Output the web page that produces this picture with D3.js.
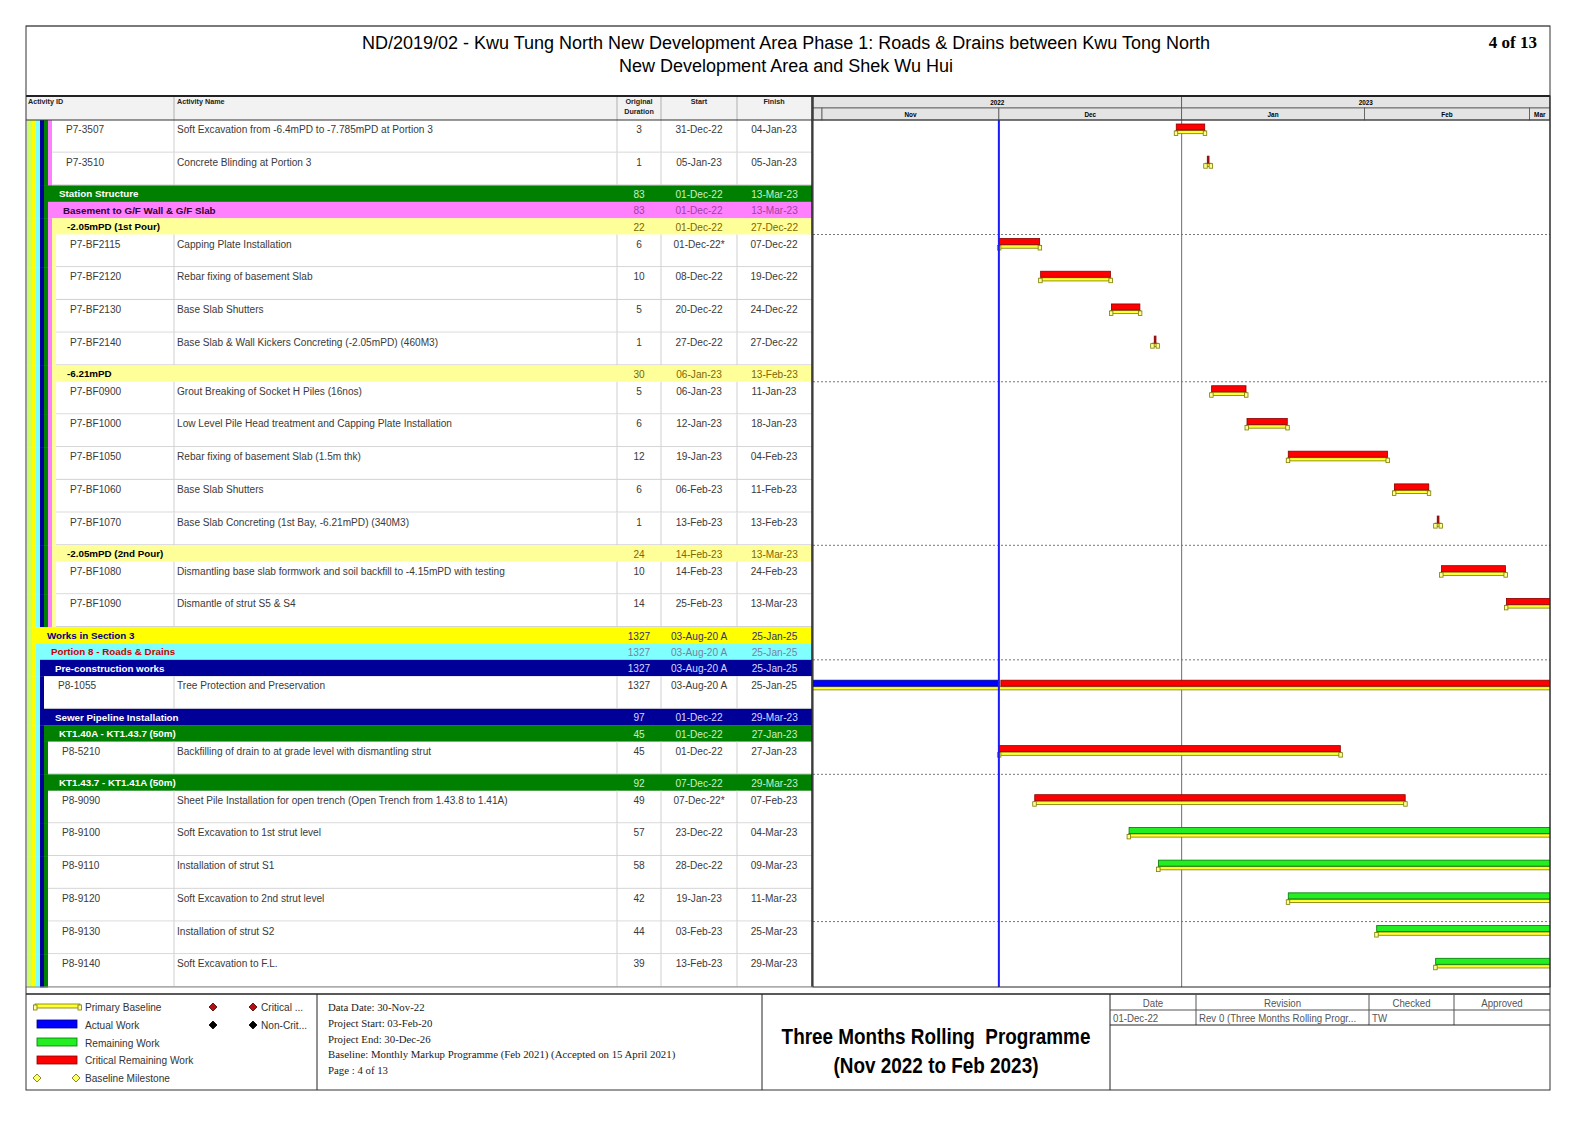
<!DOCTYPE html>
<html>
<head>
<meta charset="utf-8">
<script src="https://cdn.jsdelivr.net/npm/d3@7"></script>
<style>
body { margin: 0; background: #fff; }
text { font-family: "Liberation Sans", Arial, sans-serif; }
.serif { font-family: "Liberation Serif", "Times New Roman", serif; }
</style>
</head>
<body>
<svg id="chart" width="1588" height="1123"></svg>
<script>
// ---- data ----
var rowKinds = ['a','a','g','g','g','a','a','a','a','g','a','a','a','a','a','g','a','a',
                'g','g','g','a','g','g','a','g','a','a','a','a','a','a'];
var rowLevels = [6,6,4,5,6,7,7,7,7,6,7,7,7,7,7,6,7,7,
                 1,2,3,4,3,4,5,4,5,5,5,5,5,5];
var rowIds = ['P7-3507','P7-3510','','','','P7-BF2115','P7-BF2120','P7-BF2130','P7-BF2140','',
              'P7-BF0900','P7-BF1000','P7-BF1050','P7-BF1060','P7-BF1070','','P7-BF1080','P7-BF1090',
              '','','','P8-1055','','','P8-5210','','P8-9090','P8-9100','P8-9110','P8-9120','P8-9130','P8-9140'];
var rowNames = [
  'Soft Excavation from -6.4mPD to -7.785mPD at Portion 3',
  'Concrete Blinding at Portion 3',
  'Station Structure',
  'Basement to G/F Wall & G/F Slab',
  '-2.05mPD (1st Pour)',
  'Capping Plate Installation',
  'Rebar fixing of basement Slab',
  'Base Slab Shutters',
  'Base Slab & Wall Kickers Concreting (-2.05mPD) (460M3)',
  '-6.21mPD',
  'Grout Breaking of Socket H Piles (16nos)',
  'Low Level Pile Head treatment and Capping Plate Installation',
  'Rebar fixing of basement Slab (1.5m thk)',
  'Base Slab Shutters',
  'Base Slab Concreting (1st Bay, -6.21mPD) (340M3)',
  '-2.05mPD (2nd Pour)',
  'Dismantling base slab formwork and soil backfill to -4.15mPD with testing',
  'Dismantle of strut S5 & S4',
  'Works in Section 3',
  'Portion 8 - Roads & Drains',
  'Pre-construction works',
  'Tree Protection and Preservation',
  'Sewer Pipeline Installation',
  'KT1.40A - KT1.43.7 (50m)',
  'Backfilling of drain to at grade level with dismantling strut',
  'KT1.43.7 - KT1.41A (50m)',
  'Sheet Pile Installation for open trench (Open Trench from 1.43.8 to 1.41A)',
  'Soft Excavation to 1st strut level',
  'Installation of strut S1',
  'Soft Excavation to 2nd strut level',
  'Installation of strut S2',
  'Soft Excavation to F.L.'
];
var rowDurations = [3,1,83,83,22,6,10,5,1,30,5,6,12,6,1,24,10,14,
                    1327,1327,1327,1327,97,45,45,92,49,57,58,42,44,39];
var rowStarts = ['31-Dec-22','05-Jan-23','01-Dec-22','01-Dec-22','01-Dec-22','01-Dec-22*','08-Dec-22',
                 '20-Dec-22','27-Dec-22','06-Jan-23','06-Jan-23','12-Jan-23','19-Jan-23','06-Feb-23',
                 '13-Feb-23','14-Feb-23','14-Feb-23','25-Feb-23','03-Aug-20 A','03-Aug-20 A','03-Aug-20 A',
                 '03-Aug-20 A','01-Dec-22','01-Dec-22','01-Dec-22','07-Dec-22','07-Dec-22*','23-Dec-22',
                 '28-Dec-22','19-Jan-23','03-Feb-23','13-Feb-23'];
var rowFinishes = ['04-Jan-23','05-Jan-23','13-Mar-23','13-Mar-23','27-Dec-22','07-Dec-22','19-Dec-22',
                   '24-Dec-22','27-Dec-22','13-Feb-23','11-Jan-23','18-Jan-23','04-Feb-23','11-Feb-23',
                   '13-Feb-23','13-Mar-23','24-Feb-23','13-Mar-23','25-Jan-25','25-Jan-25','25-Jan-25',
                   '25-Jan-25','29-Mar-23','27-Jan-23','27-Jan-23','29-Mar-23','07-Feb-23','04-Mar-23',
                   '09-Mar-23','11-Mar-23','25-Mar-23','29-Mar-23'];
// bar type per row: c = critical remaining, r = remaining, ac = actual then critical
var barKinds = ['c','c','','','','c','c','c','c','','c','c','c','c','c','','c','c',
                '','','','ac','','','c','','c','r','r','r','r','r'];
var dataDate = '30-Nov-22';
var yearLabels = [2022, 2023];

var titleLines = ['ND/2019/02 - Kwu Tung North New Development Area Phase 1: Roads & Drains between Kwu Tong North',
                  'New Development Area and Shek Wu Hui'];
var infoLines = ['Data Date: 30-Nov-22', 'Project Start: 03-Feb-20', 'Project End: 30-Dec-26',
                 'Baseline: Monthly Markup Programme (Feb 2021) (Accepted on 15 April 2021)', 'Page : 4 of 13'];
var revHeaders = ['Date', 'Revision', 'Checked', 'Approved'];
var revRow = ['01-Dec-22', 'Rev 0 (Three Months Rolling Progr...', 'TW', ''];

// ---- layout ----
var svg = d3.select('#chart');
var L = 26, R = 1550, T = 26, B = 1090;
var headTop = 96, tableTop = 120, tableBottom = 987;
var ganttL = 813, ganttR = 1550;
var cols = [26, 174, 617, 661, 737, 812];

var levelFill = ['#ccff66', '#ffff00', '#80ffff', '#000099', '#008000', '#ff80ff', '#ffff99'];
var levelText = ['#000', '#000080', '#cc0000', '#ffffff', '#ffffff', '#330033', '#000000'];
var levelValText = ['#000', '#303070', '#7b7fa0', '#d8d8ff', '#c8f0c8', '#a040a0', '#806600'];
function bandX(lv) { return 28 + 4 * lv; }

var parseDate = d3.timeParse('%d-%b-%y');
function toDate(s) { return parseDate(s.replace('*', '').replace(' A', '').trim()); }

// condensed text (no narrow font installed, so squeeze horizontally)
function ntext(sel, x, y, anchor, size, fill, t, sx) {
    return sel.append('text')
        .attr('transform', 'translate(' + x + ',' + y + ') scale(' + (sx || 0.88) + ',1)')
        .attr('text-anchor', anchor).attr('font-size', size).attr('fill', fill)
        .text(t);
}

var units = rowKinds.map(function(k) { return k === 'a' ? 2 : 1; });
var unitH = (tableBottom - tableTop) / d3.sum(units);
var tops = [], acc = tableTop;
units.forEach(function(u) { tops.push(acc); acc += u * unitH; });

var x = d3.scaleTime()
    .domain([new Date(2022, 10, 1), new Date(2023, 2, 1)])
    .range([822, 1529.5]);

// ---- frame & title ----
svg.append('rect').attr('x', 0).attr('y', 0).attr('width', 1588).attr('height', 1123).attr('fill', '#fff');

svg.selectAll('.title').data(titleLines).enter().append('text')
    .attr('x', 786).attr('y', function(d, i) { return 49 + i * 23; })
    .attr('text-anchor', 'middle').attr('font-size', 18).attr('fill', '#000')
    .text(function(d) { return d; });
svg.append('text').attr('class', 'serif').attr('x', 1537).attr('y', 48)
    .attr('text-anchor', 'end').attr('font-size', 17).attr('font-weight', 'bold').text('4 of 13');

// ---- table rows ----
var rows = svg.append('g');
rowKinds.forEach(function(kind, i) {
    var top = tops[i], h = units[i] * unitH, lv = rowLevels[i];
    var g = rows.append('g');
    // ancestor strips
    for (var k = 0; k < lv; k++) {
        var x0 = k === 0 ? 27 : bandX(k);
        g.append('rect').attr('x', x0).attr('y', top).attr('width', bandX(k + 1) - x0).attr('height', h + 0.5)
            .attr('fill', levelFill[k]);
    }
    if (kind === 'g') {
        g.append('rect').attr('x', bandX(lv)).attr('y', top).attr('width', cols[5] - bandX(lv)).attr('height', h + 0.3)
            .attr('fill', levelFill[lv]);
        g.append('text').attr('x', bandX(lv) + 15).attr('y', top + 12)
            .attr('font-size', 9.8).attr('font-weight', 'bold').attr('fill', levelText[lv])
            .text(rowNames[i]);
        var vals = [rowDurations[i], rowStarts[i], rowFinishes[i]];
        vals.forEach(function(v, j) {
            ntext(g, (cols[j + 2] + cols[j + 3]) / 2, top + 12.5, 'middle', 11.5, levelValText[lv], v);
        });
    } else {
        g.append('rect').attr('x', bandX(lv)).attr('y', top).attr('width', cols[5] - bandX(lv)).attr('height', h)
            .attr('fill', '#fff');
        g.append('line').attr('x1', bandX(lv)).attr('x2', cols[5]).attr('y1', top + h - 0.5).attr('y2', top + h - 0.5)
            .attr('stroke', '#cfcfcf');
        [174, 617, 661, 737].forEach(function(cx) {
            g.append('line').attr('x1', cx).attr('x2', cx).attr('y1', top).attr('y2', top + h)
                .attr('stroke', '#cfcfcf');
        });
        var cells = [
            {x: bandX(lv) + 14, a: 'start', t: rowIds[i]},
            {x: 177, a: 'start', t: rowNames[i]},
            {x: 639, a: 'middle', t: rowDurations[i]},
            {x: 699, a: 'middle', t: rowStarts[i]},
            {x: 774, a: 'middle', t: rowFinishes[i]}
        ];
        cells.forEach(function(c) {
            ntext(g, c.x, top + 13, c.a, 11.5, '#3a3a3a', c.t);
        });
    }
});

// ---- table header ----
var hdr = svg.append('g');
hdr.append('rect').attr('x', L).attr('y', headTop).attr('width', cols[5] - L).attr('height', tableTop - headTop)
    .attr('fill', '#f2f2f2');
[174, 617, 661, 737].forEach(function(cx) {
    hdr.append('line').attr('x1', cx).attr('x2', cx).attr('y1', headTop).attr('y2', tableTop).attr('stroke', '#b0b0b0');
});
var hdrLabels = [
    {x: 28, a: 'start', t: ['Activity ID']},
    {x: 177, a: 'start', t: ['Activity Name']},
    {x: 639, a: 'middle', t: ['Original', 'Duration']},
    {x: 699, a: 'middle', t: ['Start']},
    {x: 774, a: 'middle', t: ['Finish']}
];
hdrLabels.forEach(function(h) {
    h.t.forEach(function(t, j) {
        ntext(hdr, h.x, headTop + 8 + j * 9.5, h.a, 8, '#222', t, 0.9).attr('font-weight', 'bold');
    });
});
hdr.append('line').attr('x1', L).attr('x2', cols[5]).attr('y1', tableTop).attr('y2', tableTop).attr('stroke', '#333');

// ---- gantt ----
var gantt = svg.append('g');
svg.append('clipPath').attr('id', 'gclip').append('rect')
    .attr('x', ganttL).attr('y', headTop).attr('width', ganttR - ganttL).attr('height', tableBottom - headTop);
var gc = gantt.append('g').attr('clip-path', 'url(#gclip)');

// timescale
var ts = gc.append('g');
yearLabels.forEach(function(y) {
    var x0 = Math.max(ganttL, x(new Date(y, 0, 1))), x1 = Math.min(ganttR, x(new Date(y + 1, 0, 1)));
    ts.append('rect').attr('x', x0).attr('y', headTop).attr('width', x1 - x0).attr('height', 12)
        .attr('fill', '#e4e4e4').attr('stroke', '#555').attr('stroke-width', 0.8);
    ntext(ts, (x0 + x1) / 2, headTop + 8.5, 'middle', 7.5, '#000', y, 0.85).attr('font-weight', 'bold');
});
var monthFmt = d3.timeFormat('%b');
d3.timeMonth.range(new Date(2022, 9, 1), new Date(2023, 3, 1)).forEach(function(m) {
    var x0 = Math.max(ganttL, x(m)), x1 = Math.min(ganttR, x(d3.timeMonth.offset(m, 1)));
    if (x1 <= x0) return;
    ts.append('rect').attr('x', x0).attr('y', headTop + 12).attr('width', x1 - x0).attr('height', 12)
        .attr('fill', '#e4e4e4').attr('stroke', '#555').attr('stroke-width', 0.8);
    if (x1 - x0 > 15) {
        ntext(ts, (x0 + x1) / 2, headTop + 21, 'middle', 7.5, '#000', monthFmt(m), 0.85).attr('font-weight', 'bold');
    }
});

// sight lines every 5 rows
tops.forEach(function(t, i) {
    if ((i + 1) % 5 === 0) {
        var yb = t + units[i] * unitH;
        gc.append('line').attr('x1', ganttL).attr('x2', ganttR).attr('y1', yb).attr('y2', yb)
            .attr('stroke', '#555').attr('stroke-dasharray', '2,2').attr('stroke-width', 0.8);
    }
});

// year boundary line and data date line
var jan1 = x(new Date(2023, 0, 1));
gc.append('line').attr('x1', jan1).attr('x2', jan1).attr('y1', tableTop).attr('y2', tableBottom)
    .attr('stroke', '#6e6e6e').attr('stroke-width', 1);
var ddX = x(d3.timeDay.offset(toDate(dataDate), 1));

// bars
var barColor = {c: '#ff0000', r: '#22ee22'};
var barStroke = {c: '#8a0000', r: '#007700'};
rowKinds.forEach(function(kind, i) {
    if (kind !== 'a') return;
    var top = tops[i];
    var s = toDate(rowStarts[i]), f = d3.timeDay.offset(toDate(rowFinishes[i]), 1);
    var x0 = x(s), x1 = x(f);
    // baseline
    gc.append('rect').attr('x', x0).attr('y', top + 10.5).attr('width', x1 - x0).attr('height', 3.2)
        .attr('fill', '#ffff33').attr('stroke', '#7a7a00').attr('stroke-width', 0.8);
    [x0 - 1.5, x1 - 2].forEach(function(cx) {
        gc.append('rect').attr('x', cx).attr('y', top + 11).attr('width', 3.5).attr('height', 4.5)
            .attr('fill', '#ffff99').attr('stroke', '#7a7a00').attr('stroke-width', 0.8);
    });
    var kindB = barKinds[i];
    if (kindB === 'ac') {
        gc.append('rect').attr('x', ganttL - 5).attr('y', top + 4).attr('width', ddX - ganttL + 5).attr('height', 6)
            .attr('fill', '#0000ff').attr('stroke', '#000080').attr('stroke-width', 0.8);
        gc.append('rect').attr('x', ddX + 2).attr('y', top + 4).attr('width', x1 - ddX - 2).attr('height', 6)
            .attr('fill', barColor.c).attr('stroke', barStroke.c).attr('stroke-width', 0.8);
    } else if (rowDurations[i] === 1) {
        gc.append('rect').attr('x', (x0 + x1) / 2 - 1.3).attr('y', top + 3).attr('width', 2.6).attr('height', 8)
            .attr('fill', '#9a1010');
    } else {
        gc.append('rect').attr('x', x0 + 0.5).attr('y', top + 4).attr('width', x1 - x0 - 1).attr('height', 6)
            .attr('fill', barColor[kindB]).attr('stroke', barStroke[kindB]).attr('stroke-width', 0.8);
    }
});

gc.append('line').attr('x1', ddX).attr('x2', ddX).attr('y1', tableTop).attr('y2', tableBottom)
    .attr('stroke', '#1a1aff').attr('stroke-width', 2);

gantt.append('rect').attr('x', ganttL).attr('y', headTop).attr('width', ganttR - ganttL).attr('height', tableBottom - headTop)
    .attr('fill', 'none').attr('stroke', '#222').attr('stroke-width', 1);
svg.append('line').attr('x1', ganttL).attr('x2', ganttR).attr('y1', tableTop).attr('y2', tableTop).attr('stroke', '#333');
svg.append('line').attr('x1', cols[5]).attr('x2', cols[5]).attr('y1', headTop).attr('y2', tableBottom)
    .attr('stroke', '#222').attr('stroke-width', 1.5);
svg.append('line').attr('x1', L).attr('x2', R).attr('y1', headTop).attr('y2', headTop)
    .attr('stroke', '#222').attr('stroke-width', 2);
svg.append('line').attr('x1', L).attr('x2', ganttL).attr('y1', tableBottom).attr('y2', tableBottom)
    .attr('stroke', '#888').attr('stroke-width', 1);

// ---- footer ----
var ft = svg.append('g');
var ftTop = 994;
ft.append('line').attr('x1', L).attr('x2', R).attr('y1', ftTop).attr('y2', ftTop).attr('stroke', '#222').attr('stroke-width', 1.5);
[317, 762, 1110].forEach(function(fx) {
    ft.append('line').attr('x1', fx).attr('x2', fx).attr('y1', ftTop).attr('y2', B).attr('stroke', '#222').attr('stroke-width', 1);
});

// legend
function diamond(cx, cy, r, fill, stroke) {
    ft.append('path').attr('d', 'M' + cx + ',' + (cy - r) + 'L' + (cx + r) + ',' + cy + 'L' + cx + ',' + (cy + r) + 'L' + (cx - r) + ',' + cy + 'Z')
        .attr('fill', fill).attr('stroke', stroke).attr('stroke-width', 0.8);
}
ft.append('rect').attr('x', 35).attr('y', 1004).attr('width', 45).attr('height', 4)
    .attr('fill', '#ffff33').attr('stroke', '#7a7a00').attr('stroke-width', 0.8);
[33.5, 78].forEach(function(cx) {
    ft.append('rect').attr('x', cx).attr('y', 1005).attr('width', 3.5).attr('height', 5)
        .attr('fill', '#ffff99').attr('stroke', '#7a7a00').attr('stroke-width', 0.8);
});
var legendRects = [
    {y: 1020, fill: '#0000ff', stroke: '#000080'},
    {y: 1038, fill: '#22ee22', stroke: '#007700'},
    {y: 1056, fill: '#ff0000', stroke: '#8a0000'}
];
legendRects.forEach(function(l) {
    ft.append('rect').attr('x', 37).attr('y', l.y).attr('width', 40).attr('height', 8)
        .attr('fill', l.fill).attr('stroke', l.stroke).attr('stroke-width', 0.8);
});
var legendTexts = [
    {y: 1011, t: 'Primary Baseline'}, {y: 1029, t: 'Actual Work'}, {y: 1047, t: 'Remaining Work'},
    {y: 1064, t: 'Critical Remaining Work'}, {y: 1082, t: 'Baseline Milestone'}
];
legendTexts.forEach(function(l) {
    ntext(ft, 85, l.y, 'start', 11.5, '#333', l.t);
});
diamond(37, 1078, 4, '#ffff66', '#6a6a00');
diamond(76, 1078, 4, '#ffff66', '#6a6a00');
diamond(213, 1007, 4, '#b01010', '#400000');
diamond(253, 1007, 4, '#b01010', '#400000');
diamond(213, 1025, 4, '#000', '#000');
diamond(253, 1025, 4, '#000', '#000');
ntext(ft, 261, 1011, 'start', 11.5, '#333', 'Critical ...');
ntext(ft, 261, 1029, 'start', 11.5, '#333', 'Non-Crit...');

// info
infoLines.forEach(function(t, i) {
    ft.append('text').attr('class', 'serif').attr('x', 328).attr('y', 1011 + i * 15.8)
        .attr('font-size', 10.8).attr('fill', '#222').text(t);
});

// programme title
['Three Months Rolling  Programme', '(Nov 2022 to Feb 2023)'].forEach(function(t, i) {
    ntext(ft, 936, 1044 + i * 29, 'middle', 22, '#000', t, 0.86)
        .attr('font-weight', 'bold').style('white-space', 'pre');
});

// revision table
var revCols = [1110, 1196, 1369, 1454, 1550];
revCols.slice(1, 4).forEach(function(cx) {
    ft.append('line').attr('x1', cx).attr('x2', cx).attr('y1', ftTop).attr('y2', 1025).attr('stroke', '#555');
});
ft.append('line').attr('x1', 1110).attr('x2', R).attr('y1', 1010).attr('y2', 1010).attr('stroke', '#555');
ft.append('line').attr('x1', 1110).attr('x2', R).attr('y1', 1025).attr('y2', 1025).attr('stroke', '#222').attr('stroke-width', 1.2);
revHeaders.forEach(function(t, i) {
    ntext(ft, (revCols[i] + revCols[i + 1]) / 2, 1007, 'middle', 11, '#555', t);
});
revRow.forEach(function(t, i) {
    ntext(ft, revCols[i] + 3, 1022, 'start', 11, '#555', t);
});

// outer frame
svg.append('line').attr('x1', L).attr('x2', R).attr('y1', T).attr('y2', T).attr('stroke', '#888');
svg.append('rect').attr('x', L).attr('y', T).attr('width', R - L).attr('height', B - T)
    .attr('fill', 'none').attr('stroke', '#333').attr('stroke-width', 1);
</script>
</body>
</html>
